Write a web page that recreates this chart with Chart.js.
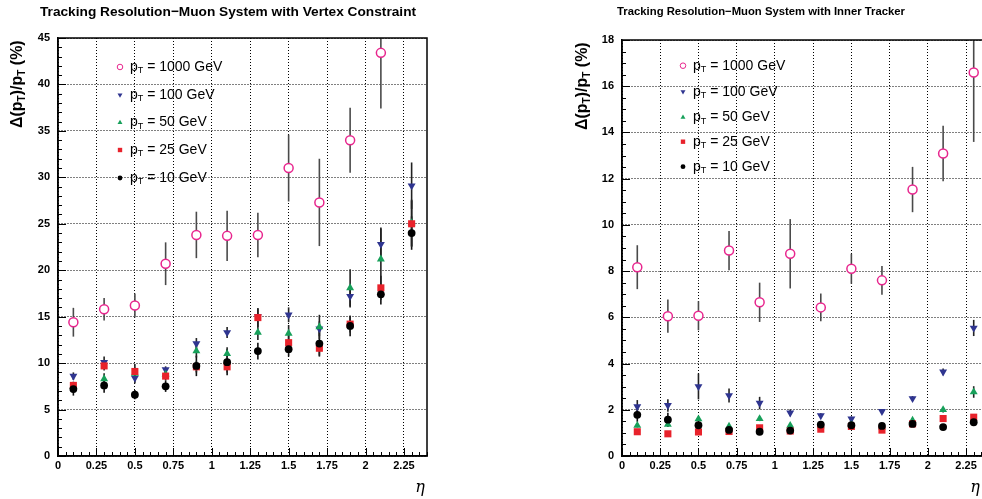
<!DOCTYPE html>
<html>
<head>
<meta charset="utf-8">
<script src="https://cdn.jsdelivr.net/npm/chart.js@4.4.1/dist/chart.umd.min.js"></script>
<style>
    html, body { margin: 0; padding: 0; background: #fff; overflow: hidden; width: 982px; height: 499px; }
    canvas { position: absolute; top: 0; }
    #vertexChart { left: 0; }
    #trackerChart { left: 491px; }
</style>
</head>
<body>
<canvas id="vertexChart" width="491" height="499" style="width:491px;height:499px"></canvas>
<canvas id="trackerChart" width="520" height="499" style="width:520px;height:499px"></canvas>
<script>
// eta bin centres shared by both panels
const eta = [0.1, 0.3, 0.5, 0.7, 0.9, 1.1, 1.3, 1.5, 1.7, 1.9, 2.1, 2.3];
const etaTicks = [0, 0.25, 0.5, 0.75, 1, 1.25, 1.5, 1.75, 2, 2.25];
const ptLabels = ['1000', '100', '50', '25', '10'];

// Muon system with vertex constraint (%)
const vtx1000 = [14.4, 15.8, 16.2, 20.7, 23.8, 23.7, 23.8, 31.0, 27.3, 34.0, 43.4, null];
const vtx1000Err = [1.55, 1.2, 1.3, 2.3, 2.5, 2.7, 2.4, 3.6, 4.7, 3.5, 6.0, null];
const vtx100 = [8.6, 10.1, 8.4, 9.3, 12.1, 13.3, 15.0, 15.2, 13.7, 17.2, 22.8, 29.1];
const vtx100Err = [0.4, 0.6, 0.6, 0.35, 0.6, 0.6, 0.9, 0.8, 0.8, 1.2, 1.8, 2.5];
const vtx50 = [7.5, 8.3, 8.9, 8.8, 11.3, 11.0, 13.3, 13.2, 13.9, 18.1, 21.2, 25.1];
const vtx50Err = [0.4, 0.6, 0.6, 0.5, 0.7, 0.7, 0.8, 0.9, 1.3, 2.0, 3.3, 2.5];
const vtx25 = [7.6, 9.7, 9.1, 8.6, 9.6, 9.6, 14.9, 12.2, 11.6, 14.2, 18.1, 25.0];
const vtx25Err = [0.4, 0.5, 0.8, 0.5, 0.6, 0.6, 1.0, 0.9, 0.8, 0.9, 1.3, 2.5];
const vtx10 = [7.2, 7.6, 6.6, 7.5, 9.7, 10.1, 11.3, 11.5, 12.1, 14.0, 17.4, 24.0];
const vtx10Err = [0.7, 0.8, 0.5, 0.6, 1.1, 1.4, 0.9, 0.8, 1.4, 1.1, 1.1, 1.8];

// Muon system with inner tracker (%)
const trk1000 = [8.17, 6.05, 6.07, 8.89, 6.65, 8.75, 6.43, 8.1, 7.6, 11.53, 13.09, 16.59];
const trk1000Err = [0.95, 0.72, 0.63, 0.85, 0.85, 1.5, 0.6, 0.65, 0.62, 0.98, 1.2, 3.0];
const trk100 = [2.14, 2.19, 3.01, 2.62, 2.29, 1.87, 1.75, 1.61, 1.93, 2.49, 3.64, 5.54];
const trk100Err = [0.28, 0.27, 0.56, 0.3, 0.27, 0.15, 0.1, 0.1, 0.1, 0.1, 0.15, 0.35];
const trk50 = [1.32, 1.36, 1.6, 1.28, 1.61, 1.32, 1.3, 1.35, 1.25, 1.54, 2.0, 2.77];
const trk50Err = [0.08, 0.08, 0.1, 0.08, 0.1, 0.08, 0.08, 0.08, 0.08, 0.1, 0.12, 0.25];
const trk25 = [1.05, 0.96, 1.04, 1.06, 1.22, 1.08, 1.16, 1.28, 1.12, 1.39, 1.62, 1.68];
const trk25Err = [0.06, 0.06, 0.06, 0.06, 0.06, 0.06, 0.06, 0.06, 0.06, 0.06, 0.08, 0.08];
const trk10 = [1.78, 1.57, 1.33, 1.13, 1.05, 1.1, 1.36, 1.33, 1.3, 1.39, 1.25, 1.46];
const trk10Err = [0.3, 0.3, 0.1, 0.08, 0.08, 0.08, 0.08, 0.08, 0.08, 0.08, 0.08, 0.1];

// marker look per pT, same order as ptLabels
const markers = [
    { color: '#e8268e', fill: '#ffffff', style: 'circle', rotation: 0, radius: 4.5, border: 1.5, bar: '#4a4a4a' },
    { color: '#2f3590', fill: '#2f3590', style: 'triangle', rotation: 180, radius: 4.6, border: 0, bar: '#222' },
    { color: '#17a05a', fill: '#17a05a', style: 'triangle', rotation: 0, radius: 4.6, border: 0, bar: '#222' },
    { color: '#e8222b', fill: '#e8222b', style: 'rect', rotation: 0, radius: 5, border: 0, bar: '#222' },
    { color: '#000000', fill: '#000000', style: 'circle', rotation: 0, radius: 3.9, border: 0, bar: '#111' }
];

const FONT = '"Liberation Sans", Arial, Helvetica, sans-serif';

function fmtTick(v) {
    return String(+v.toFixed(2));
}

// Draw a run of text pieces, pieces flagged sub are drawn smaller and lower
function drawPtText(ctx, parts, x, y, size, bold) {
    const w = bold ? 'bold ' : '';
    parts.forEach(part => {
        if (part.sub) {
            ctx.font = `${w}${Math.round(size * 0.62)}px ${FONT}`;
            ctx.fillText(part.text, x, y + size * 0.28);
        } else {
            ctx.font = `${w}${size}px ${FONT}`;
            ctx.fillText(part.text, x, y);
        }
        x += ctx.measureText(part.text).width;
    });
    return x;
}

function panelPlugin(p) {
    return {
        id: 'panelDecor',
        beforeDatasetsDraw(chart) {
            // vertical error bars
            const ctx = chart.ctx;
            const xs = chart.scales.x, ys = chart.scales.y;
            const area = chart.chartArea;
            ctx.save();
            ctx.beginPath();
            ctx.rect(area.left, area.top, area.right - area.left, area.bottom - area.top);
            ctx.clip();
            ctx.lineWidth = 1.6;
            chart.data.datasets.forEach(ds => {
                ctx.strokeStyle = ds.barColor;
                ds.data.forEach(pt => {
                    const e = ds.errors[pt.i];
                    if (e == null) return;
                    const px = xs.getPixelForValue(pt.x);
                    ctx.beginPath();
                    ctx.moveTo(px, ys.getPixelForValue(pt.y + e));
                    ctx.lineTo(px, ys.getPixelForValue(pt.y - e));
                    ctx.stroke();
                });
            });
            ctx.restore();
        },
        afterDraw(chart) {
            const ctx = chart.ctx;
            const xs = chart.scales.x, ys = chart.scales.y;
            const area = chart.chartArea;
            ctx.save();

            // frame
            ctx.strokeStyle = '#000';
            ctx.lineWidth = 1.5;
            ctx.strokeRect(area.left, area.top, area.right - area.left, area.bottom - area.top);

            // inward ticks on bottom and left axes
            ctx.lineWidth = 1;
            ctx.beginPath();
            for (let v = 0; v <= xs.max + 1e-9; v += 0.05) {
                const major = Math.abs(v / 0.25 - Math.round(v / 0.25)) < 1e-6;
                const px = Math.round(xs.getPixelForValue(v)) + 0.5;
                ctx.moveTo(px, area.bottom);
                ctx.lineTo(px, area.bottom - (major ? 8 : 4));
            }
            for (let v = 0; v <= ys.max + 1e-9; v += p.yMinor) {
                const major = Math.abs(v / p.yStep - Math.round(v / p.yStep)) < 1e-6;
                const py = Math.round(ys.getPixelForValue(v)) + 0.5;
                ctx.moveTo(area.left, py);
                ctx.lineTo(area.left + (major ? 8 : 4), py);
            }
            ctx.stroke();

            // legend
            ctx.textBaseline = 'middle';
            ctx.textAlign = 'left';
            ptLabels.forEach((lab, i) => {
                const m = markers[i];
                const y = p.legendY[i];
                ctx.fillStyle = m.fill;
                ctx.strokeStyle = m.color;
                Chart.helpers.drawPoint(ctx, {
                    pointStyle: m.style,
                    rotation: m.rotation,
                    radius: m.radius * 0.62,
                    borderWidth: m.border ? 1.2 : 0
                }, p.legendX, y);
                ctx.fillStyle = '#000';
                drawPtText(ctx, [
                    { text: 'p' }, { text: 'T', sub: true }, { text: ` = ${lab} GeV` }
                ], p.legendX + 10, y, 14, false);
            });

            // title
            ctx.fillStyle = '#000';
            ctx.font = `bold ${p.titleSize}px ${FONT}`;
            ctx.textAlign = 'center';
            ctx.fillText(p.title, p.titleX, 12);

            // y axis title, rotated
            ctx.save();
            ctx.translate(p.yLabelX, p.yLabelBottom);
            ctx.rotate(-Math.PI / 2);
            ctx.textAlign = 'left';
            drawPtText(ctx, [
                { text: 'Δ(p' }, { text: 'T', sub: true }, { text: ')/p' }, { text: 'T', sub: true }, { text: ' (%)' }
            ], 0, 0, 16, true);
            ctx.restore();

            // x axis title
            ctx.font = `italic 16px "DejaVu Serif", serif`;
            ctx.textAlign = 'center';
            ctx.fillText('η', p.xLabelX, 488);

            ctx.restore();
        }
    };
}

function makePanel(canvasId, p) {
    const canvas = document.getElementById(canvasId);
    const W = canvas.width, H = canvas.height;

    const datasets = p.series.map((s, k) => {
        const m = markers[k];
        return {
            label: `pT = ${ptLabels[k]} GeV`,
            data: eta.map((x, i) => ({ x: x, y: s.values[i], i: i })).filter(d => d.y != null),
            errors: s.errors,
            barColor: m.bar,
            pointStyle: m.style,
            rotation: m.rotation,
            pointRadius: m.radius,
            pointBorderWidth: m.border,
            pointBackgroundColor: m.fill,
            pointBorderColor: m.color,
            showLine: false
        };
    });
    // pT = 10 GeV on top, 1000 GeV underneath
    datasets.reverse();

    const tickFont = { family: FONT, size: 11, weight: 'bold' };

    return new Chart(canvas, {
        type: 'scatter',
        data: { datasets: datasets },
        options: {
            responsive: false,
            animation: false,
            events: [],
            layout: {
                padding: { left: 0, top: p.area.top, right: W - p.area.right, bottom: 0 }
            },
            plugins: {
                legend: { display: false },
                tooltip: { enabled: false }
            },
            scales: {
                x: {
                    type: 'linear',
                    min: 0,
                    max: 2.4,
                    afterFit: scale => { scale.height = H - p.area.bottom; },
                    afterBuildTicks: axis => {
                        axis.ticks = etaTicks.map(v => ({ value: v }));
                    },
                    ticks: {
                        autoSkip: false,
                        maxRotation: 0,
                        padding: 3,
                        color: '#000',
                        font: tickFont,
                        callback: v => fmtTick(v)
                    },
                    grid: { color: '#000', lineWidth: 1, drawTicks: false },
                    border: { display: true, color: '#000', width: 1.5, dash: [1, 2] }
                },
                y: {
                    type: 'linear',
                    min: 0,
                    max: p.yMax,
                    afterFit: scale => { scale.width = p.area.left; },
                    ticks: {
                        stepSize: p.yStep,
                        padding: 8,
                        color: '#000',
                        font: tickFont,
                        callback: v => fmtTick(v)
                    },
                    grid: { color: '#000', lineWidth: 1, drawTicks: false },
                    border: { display: true, color: '#000', width: 1.5, dash: [1, 2] }
                }
            }
        },
        plugins: [panelPlugin(p)]
    });
}

makePanel('vertexChart', {
    area: { left: 58, top: 38, right: 427, bottom: 456 },
    yMax: 45, yStep: 5, yMinor: 1,
    title: 'Tracking Resolution\u2212Muon System with Vertex Constraint',
    titleSize: 13.7, titleX: 228,
    yLabelX: 18, yLabelBottom: 128,
    xLabelX: 420,
    legendX: 120, legendY: [67, 95, 122.5, 150, 178],
    series: [
        { values: vtx1000, errors: vtx1000Err },
        { values: vtx100, errors: vtx100Err },
        { values: vtx50, errors: vtx50Err },
        { values: vtx25, errors: vtx25Err },
        { values: vtx10, errors: vtx10Err }
    ]
});

makePanel('trackerChart', {
    area: { left: 131, top: 40, right: 498, bottom: 456 },
    yMax: 18, yStep: 2, yMinor: 0.5,
    title: 'Tracking Resolution\u2212Muon System with Inner Tracker',
    titleSize: 11.3, titleX: 270,
    yLabelX: 92, yLabelBottom: 130,
    xLabelX: 484,
    legendX: 192, legendY: [65.7, 91.7, 117.3, 141.7, 166.7],
    series: [
        { values: trk1000, errors: trk1000Err },
        { values: trk100, errors: trk100Err },
        { values: trk50, errors: trk50Err },
        { values: trk25, errors: trk25Err },
        { values: trk10, errors: trk10Err }
    ]
});
</script>
</body>
</html>
